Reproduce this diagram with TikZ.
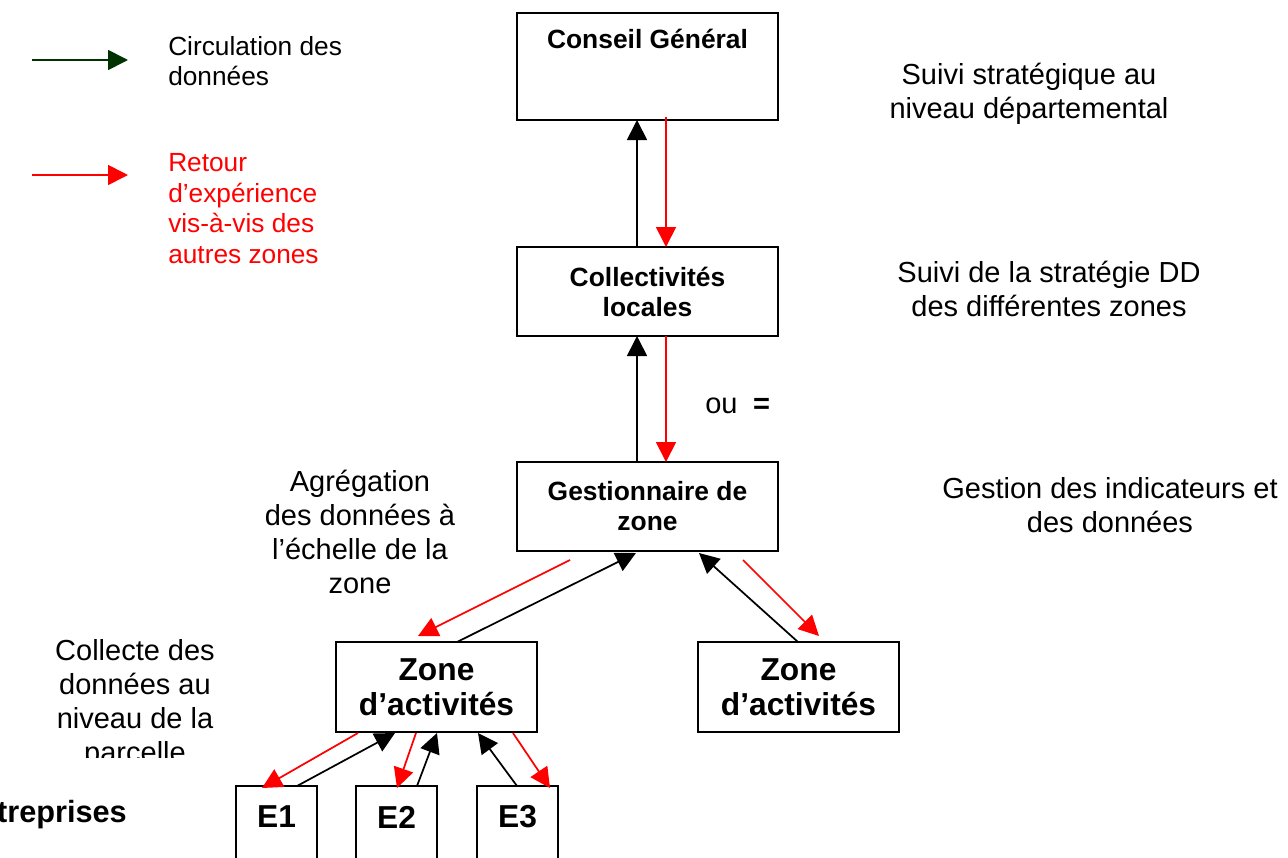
\documentclass[tikz,border=0pt]{standalone}
\usepackage{fontspec}
\setmainfont{Liberation Sans}
\usetikzlibrary{arrows.meta,calc}
\definecolor{legendgreen}{RGB}{0,51,0}
\begin{document}
\begin{tikzpicture}[x=0.75pt,y=-0.75pt,
  box/.style={draw,line width=1.5pt,rectangle,inner sep=0pt,outer sep=0pt},
  bigbox/.style={box,minimum width=195.75pt},
  zonebox/.style={box,minimum width=150.75pt,minimum height=67.5pt},
  ebox/.style={box,minimum width=60.75pt,minimum height=75pt},
  boxtxt/.style={font=\fontsize{19.8}{22.5}\selectfont\bfseries,align=center},
  zonetxt/.style={font=\fontsize{23.8}{26.25}\selectfont\bfseries,align=center},
  plain/.style={font=\fontsize{21.75}{25.5}\selectfont,align=center,inner sep=0pt},
  legtxt/.style={font=\fontsize{19.7}{23}\selectfont,align=left,inner sep=0pt,anchor=west},
  blk/.style={line width=1.3pt,-{Triangle[length=15pt,width=15pt]}},
  rd/.style={blk,red},
]
\useasboundingbox (0,0) rectangle (1288,857);

% legend
\coordinate (lgA) at (32,60);
\coordinate (lgB) at (128,60);
\coordinate (lrA) at (32,175);
\coordinate (lrB) at (128,175);
\draw[blk,legendgreen] (lgA) -- (lgB);
\draw[rd] (lrA) -- (lrB);
\node[legtxt] (legg) at (168,61) {Circulation des\\données};
\node[legtxt,text=red] (legr) at (168,208.5) {Retour\\d’expérience\\vis-à-vis des\\autres zones};

% boxes
\node[bigbox,minimum height=80.25pt] (cg) at (647.5,66.5) {};
\node[boxtxt,inner sep=0pt] (cgt) at (647.5,38.5) {Conseil Général};
\node[bigbox,minimum height=66.75pt,boxtxt] (cl) at (647.5,291.5) {Collectivités\\locales};
\node[bigbox,minimum height=66.75pt,boxtxt] (gz) at (647.5,506.5) {Gestionnaire de\\zone};
\node[zonebox,zonetxt] (zl) at (436.5,687) {Zone\\d’activités};
\node[zonebox,zonetxt] (zr) at (798.5,687) {Zone\\d’activités};
\node[ebox] (e1) at (276.5,836) {};
\node[ebox] (e2) at (396.5,836) {};
\node[ebox] (e3) at (517.5,836) {};
\node[zonetxt,inner sep=0pt] (e1t) at (276.5,817) {E1};
\node[zonetxt,inner sep=0pt] (e2t) at (396.5,817) {E2};
\node[zonetxt,inner sep=0pt] (e3t) at (517.5,817) {E3};

% side texts
\node[plain] (t1) at (1029,93.5) {Suivi stratégique au\\niveau départemental};
\node[plain] (t2) at (1049,288.5) {Suivi de la stratégie DD\\des différentes zones};
\node[plain] (t3) at (1110,505.5) {Gestion des indicateurs et\\des données};
\node[plain] (t4) at (360,532) {Agrégation\\des données à\\l’échelle de la\\zone};
\begin{scope}
  \clip (0,600) rectangle (300,757);
  \node[plain] (t5) at (135,704) {Collecte des\\données au\\niveau de la\\parcelle};
\end{scope}
\node[font=\fontsize{21.75}{25.5}\selectfont,inner sep=0pt,anchor=base west] (ou) at (705,413) {ou\hspace{11.6pt}\textbf{=}};
\node[font=\fontsize{23}{27}\selectfont\bfseries,inner sep=0pt,anchor=base east] (ent) at (127,822) {Entreprises};

% vertical arrows
\draw[blk] ($(cl.north west)+(120,0)$) -- ($(cg.south west)+(120,0)$);
\draw[rd] ($(cg.south west)+(149,-3)$) -- ($(cl.north west)+(149,0)$);
\draw[blk] ($(gz.north west)+(120,0)$) -- ($(cl.south west)+(120,0)$);
\draw[rd] ($(cl.south west)+(149,0)$) -- ($(gz.north west)+(149,0)$);

% gestionnaire <-> zones
\draw[rd] ($(gz.south west)+(53,9)$) -- ($(zl.north west)+(82,-6)$);
\draw[blk] ($(zl.north west)+(121,0)$) -- ($(gz.south west)+(119,2)$);
\draw[blk] ($(zr.north west)+(100,0)$) -- ($(gz.south west)+(182,2)$);
\draw[rd] ($(gz.south west)+(226,9)$) -- ($(zr.north west)+(121,-6)$);

% zone <-> entreprises
\draw[rd] ($(zl.south west)+(22,1)$) -- ($(e1.north west)+(26,2)$);
\draw[blk] ($(e1.north west)+(61,0)$) -- ($(zl.south west)+(59,1)$);
\draw[rd] ($(zl.south west)+(80,1)$) -- ($(e2.north west)+(41,2)$);
\draw[blk] ($(e2.north west)+(61,0)$) -- ($(zl.south west)+(101,1)$);
\draw[blk] ($(e3.north west)+(40,0)$) -- ($(zl.south west)+(142,1)$);
\draw[rd] ($(zl.south west)+(177,1)$) -- ($(e3.north west)+(73,2)$);
\end{tikzpicture}
\end{document}
